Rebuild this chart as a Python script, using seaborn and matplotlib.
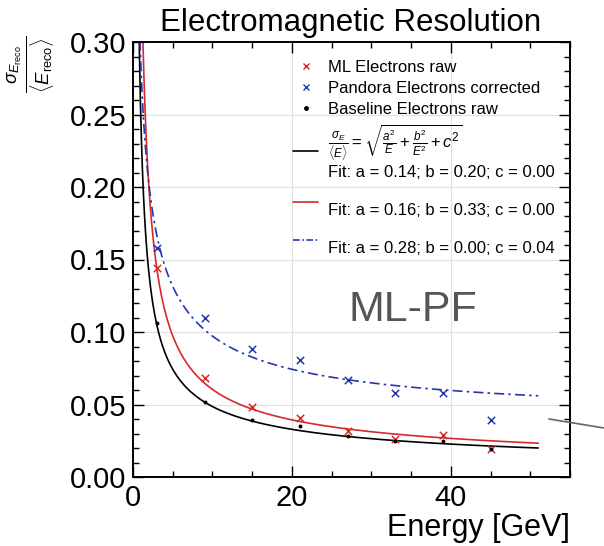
import numpy as np
import pandas as pd
import matplotlib.pyplot as plt
import seaborn as sns
from matplotlib.lines import Line2D
from matplotlib.ticker import MultipleLocator

sns.set_theme(style='ticks')
plt.rcParams['font.family'] = ['Liberation Sans', 'DejaVu Sans']
plt.rcParams['mathtext.fontset'] = 'custom'
plt.rcParams['mathtext.rm'] = 'Liberation Sans'
plt.rcParams['mathtext.it'] = 'Liberation Sans:italic'
for k in ['text.color', 'axes.labelcolor', 'xtick.color', 'ytick.color']:
    plt.rcParams[k] = 'black'

# 数据
energy = [3, 9, 15, 21, 27, 33, 39, 45]
ml_raw = [0.144, 0.068, 0.048, 0.041, 0.032, 0.026, 0.029, 0.019]
pandora_corr = [0.158, 0.110, 0.088, 0.081, 0.067, 0.058, 0.058, 0.039]
baseline_raw = [0.106, 0.052, 0.039, 0.035, 0.028, 0.025, 0.025, 0.019]

# 拟合参数 a, b, c
fit_baseline = [0.14, 0.20, 0.00]
fit_ml = [0.16, 0.33, 0.00]
fit_pandora = [0.28, 0.00, 0.04]

red = '#d42a2a'
blue = '#2536b0'


def reso(e, p):
    a, b, c = p
    return np.sqrt(a**2 / e + b**2 / e**2 + c**2)


e_fit = np.linspace(0.3, 51, 400)
curves = pd.DataFrame({
    'E': e_fit,
    'baseline': reso(e_fit, fit_baseline),
    'ml': reso(e_fit, fit_ml),
    'pandora': reso(e_fit, fit_pandora),
})

fig = plt.figure(figsize=(6.04, 5.46), dpi=100)
ax = fig.add_axes([133 / 604, 1 - 477 / 546, (570 - 133) / 604, (477 - 42) / 546])

# 拟合曲线
sns.lineplot(data=curves, x='E', y='baseline', color='black', lw=1.2, ax=ax)
sns.lineplot(data=curves, x='E', y='ml', color=red, lw=1.2, ax=ax)
sns.lineplot(data=curves, x='E', y='pandora', color=blue, lw=1.2,
             linestyle=(0, (6, 2.5, 1.5, 2.5)), ax=ax)

# 数据点
sns.scatterplot(x=energy, y=pandora_corr, marker='x', color=blue, s=28, linewidth=1.1, ax=ax, zorder=3)
sns.scatterplot(x=energy, y=ml_raw, marker='x', color=red, s=28, linewidth=1.1, ax=ax, zorder=3)
sns.scatterplot(x=energy, y=baseline_raw, marker='o', color='black', s=8, linewidth=0, ax=ax, zorder=4)

ax.set_xlim(0, 55)
ax.set_ylim(0, 0.30)
ax.set_xticks([0, 20, 40])
ax.xaxis.set_minor_locator(MultipleLocator(5))
ax.set_yticks(np.arange(0, 0.31, 0.05))
ax.yaxis.set_minor_locator(MultipleLocator(0.01))
ax.set_yticklabels(['%.2f' % v for v in np.arange(0, 0.31, 0.05)])
ax.tick_params(which='both', direction='in', top=True, right=True, labelsize=21, width=1)
ax.tick_params(which='major', length=8, pad=5)
ax.tick_params(which='minor', length=4)
ax.grid(True, which='major', color='#e0e0e0', lw=0.8)
for s in ax.spines.values():
    s.set_linewidth(1.4)
    s.set_color('black')

ax.set_xlabel('Energy [GeV]', fontsize=22, loc='right', labelpad=1)
ax.set_ylabel('')

fig.text(0.581, 0.958, 'Electromagnetic Resolution', fontsize=22.5, ha='center', va='center')
fig.text(0.052, 0.935, r'$\frac{\sigma_{E_{\rm reco}}}{\langle E_{\rm reco}\rangle}$',
         fontsize=19, rotation=90, ha='center', va='top')
ax.text(0.64, 0.385, 'ML-PF', transform=ax.transAxes, fontsize=31, color='#555555',
        ha='center', va='center')

# 图例
handles = [
    Line2D([], [], ls='none', marker='x', color=red, ms=5, mew=1),
    Line2D([], [], ls='none', marker='x', color=blue, ms=5, mew=1),
    Line2D([], [], ls='none', marker='o', color='black', ms=2.5),
    Line2D([], [], color='black', lw=1.2),
    Line2D([], [], color=red, lw=1.2),
    Line2D([], [], color=blue, lw=1.2, ls=(0, (4, 1.5, 1, 1.5))),
]
labels = [
    'ML Electrons raw',
    'Pandora Electrons corrected',
    'Baseline Electrons raw',
    r'$\frac{\sigma_E}{\langle E\rangle} = \sqrt{\frac{a^2}{E} + \frac{b^2}{E^2} + c^2}$'
    + '\nFit: a = 0.14; b = 0.20; c = 0.00',
    '\nFit: a = 0.16; b = 0.33; c = 0.00',
    '\nFit: a = 0.28; b = 0.00; c = 0.04',
]
ax.legend(handles, labels, loc='upper left', bbox_to_anchor=(0.348, 0.978), frameon=False,
          fontsize=12, handlelength=1.5, handletextpad=0.55, borderpad=0, labelspacing=0.35)

# 图外的灰色线
fig.add_artist(Line2D([549 / 604, 1.0], [1 - 419 / 546, 1 - 428 / 546], color='#666666', lw=1.2))

fig.savefig('out.png', dpi=100)
